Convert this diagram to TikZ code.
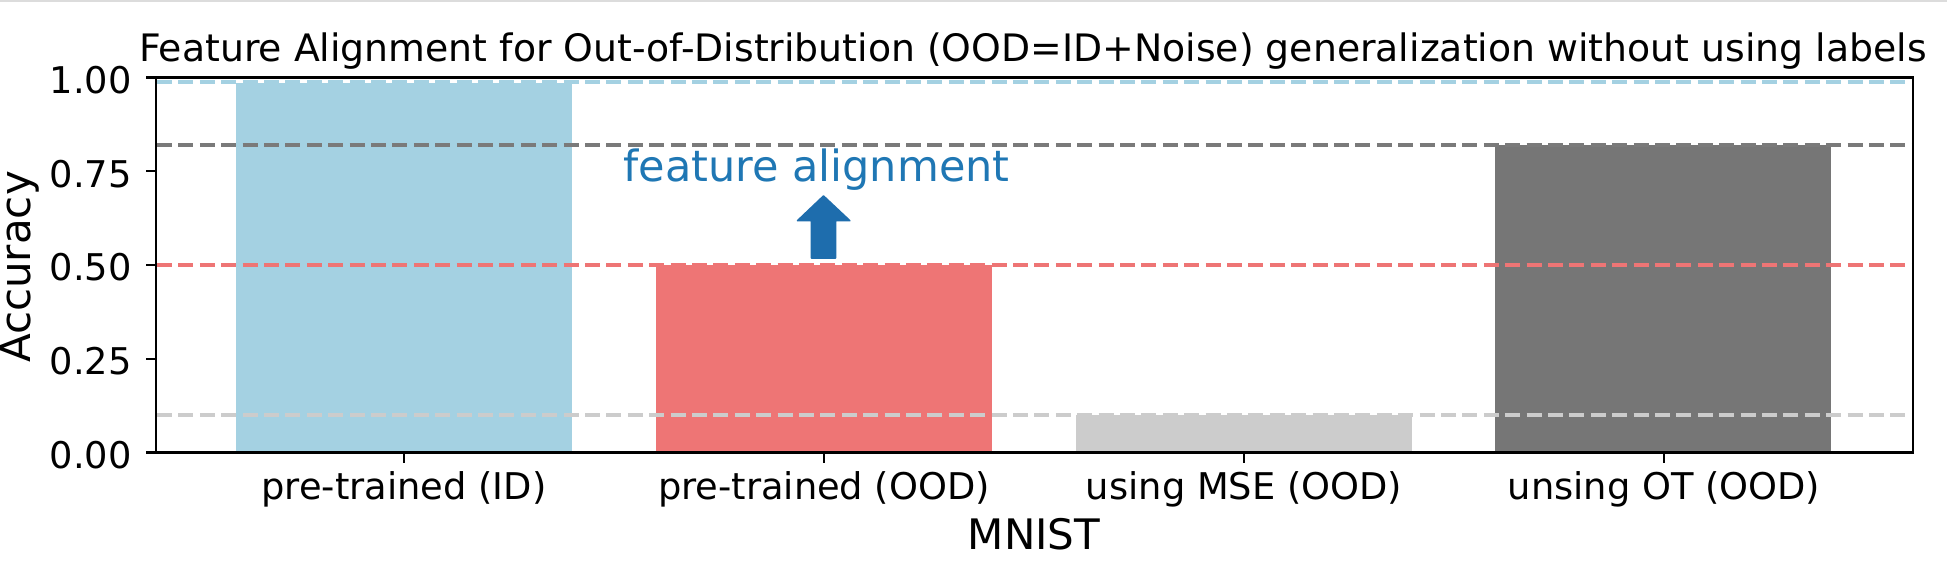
\documentclass[tikz,border=0pt]{standalone}
\usepackage{fontspec}
\setmainfont{DejaVu Sans}
\definecolor{barblue}{HTML}{A4D1E2}
\definecolor{barred}{HTML}{EE7575}
\definecolor{barlgray}{HTML}{CCCCCC}
\definecolor{bardgray}{HTML}{767676}
\definecolor{linedgray}{HTML}{7A7A7A}
\definecolor{tabblue}{HTML}{1F77B4}
\definecolor{arrowblue}{HTML}{1E6DAD}
\definecolor{topline}{HTML}{DCDCDC}
\begin{document}
\begin{tikzpicture}[x=0.5pt,y=-0.5pt,
  bar/.style={fill=#1, draw=none},
  refline/.style={draw=#1, line width=2pt, dash pattern=on 7.5pt off 3.2pt},
  spine/.style={draw=black, line width=1.2pt},
  tickmark/.style={draw=black, line width=1.2pt},
  ticklabel/.style={font=\fontsize{18.4pt}{22pt}\selectfont, inner sep=0pt},
  axlabel/.style={font=\fontsize{21pt}{25pt}\selectfont, inner sep=0pt},
  titlefont/.style={font=\fontsize{18.9pt}{23pt}\selectfont, inner sep=0pt},
  annot/.style={font=\fontsize{21.5pt}{26pt}\selectfont, inner sep=0pt, text=tabblue}]
\useasboundingbox (0,0) rectangle (1960,572);
\fill[white] (0,0) rectangle (1960,572);
% top border line
\draw[topline, line width=1pt] (0,1) -- (1947,1);
% bars
\path[bar=barblue]  (236,452.5) rectangle (572,82.6);
\path[bar=barred]   (656,452.5) rectangle (992,265.5);
\path[bar=barlgray] (1076,452.5) rectangle (1412,415.2);
\path[bar=bardgray] (1495,452.5) rectangle (1831,144.8);
% reference lines
\draw[refline=barblue]   (157,82.5)  -- (1912,82.5);
\draw[refline=linedgray] (157,144.8) -- (1912,144.8);
\draw[refline=barred]    (157,265.5) -- (1912,265.5);
\draw[refline=barlgray]  (157,415.2) -- (1912,415.2);
% arrow
\filldraw[fill=arrowblue, draw=arrowblue, line width=0.8pt, line join=round]
  (811.5,258) -- (811.5,220.7) -- (797.5,220.7) -- (823.5,196) -- (849.8,220.7)
  -- (835.5,220.7) -- (835.5,258) -- cycle;
\node[annot, anchor=base] (fa) at (816.5,181.7) {feature alignment};
% spines
\draw[spine] (156,77.5) rectangle (1913,452.5);
% y ticks
\foreach \v/\lab in {0/0.00, 0.25/0.25, 0.5/0.50, 0.75/0.75, 1/1.00} {
  \pgfmathsetmacro{\yy}{452.5-\v*375}
  \draw[tickmark] (146,\yy) -- (156,\yy);
  \node[ticklabel, anchor=base east] (yl\lab) at (132,\yy+16) {\lab};
}
% x ticks
\foreach \xx/\lab/\nm in {404/pre-trained (ID)/a, 824/pre-trained (OOD)/b, 1244/using MSE (OOD)/c, 1664/unsing OT (OOD)/d} {
  \draw[tickmark] (\xx,452.5) -- (\xx,463);
  \node[ticklabel, anchor=base] (xl\nm) at (\xx,499) {\lab};
}
% axis labels
\node[axlabel, anchor=base] (xlabel) at (1034,549) {MNIST};
\node[axlabel, anchor=base, rotate=90] (ylabel) at (31,267) {Accuracy};
% title
\node[titlefont, anchor=base] (title) at (1033,61.7) {Feature Alignment for Out-of-Distribution (OOD=ID+Noise) generalization without using labels};
\end{tikzpicture}
\end{document}
